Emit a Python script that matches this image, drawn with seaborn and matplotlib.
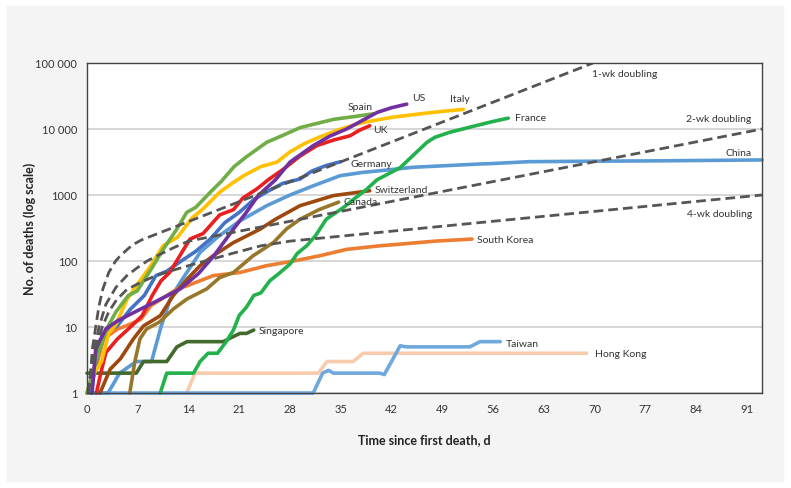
import numpy as np
import pandas as pd
import matplotlib
matplotlib.use('Agg')
import matplotlib.pyplot as plt
from matplotlib.patches import Rectangle
import seaborn as sns

# Deaths since first death (day, deaths)
spain_days = [0, 1.2, 2.7, 4, 5.7, 6.9, 9, 10.5, 12.4, 13.75, 15, 17, 18.5, 20.3, 22, 24.8, 27, 29.4, 34, 37, 39.5]
spain_deaths = [1, 3, 9.3, 17, 30, 35, 80, 150, 305, 545, 650, 1100, 1600, 2700, 3800, 6300, 8000, 10500, 14000, 15500, 17000]

us_days = [0.7, 1.2, 1.66, 2.6, 4.2, 7.4, 9.7, 12.9, 15.4, 17.5, 20.2, 22, 23.6, 26, 28, 31.2, 33.5, 35.8, 38, 40, 42, 44.1]
us_deaths = [1, 4.6, 5.9, 9.3, 12.4, 18.7, 25, 38, 65, 120, 305, 550, 980, 1700, 3150, 5600, 7800, 10000, 13500, 17800, 21000, 23800]

italy_days = [0, 1, 2, 3, 4, 5.5, 7, 8.8, 10.5, 12.5, 14.5, 16, 18.3, 20, 21.6, 24, 26.2, 28, 30, 32, 35, 38, 42, 46, 49, 51.9]
italy_deaths = [1, 2, 3, 8, 11, 26, 45, 85, 170, 230, 450, 615, 1100, 1500, 1960, 2700, 3150, 4500, 6000, 7500, 10000, 12500, 15000, 17000, 18500, 19800]

uk_days = [1.3, 1.9, 2.6, 4.2, 6, 7.6, 9, 10.2, 11.4, 14.2, 16, 18.3, 20.2, 21.5, 23.4, 25, 27.1, 29.4, 31.7, 34, 36.3, 37.5, 39]
uk_deaths = [1, 2, 4.1, 6.6, 10, 14.8, 30, 50, 67, 215, 260, 500, 600, 900, 1230, 1700, 2470, 3900, 5600, 6800, 7900, 9500, 11200]

france_days = [10.1, 11, 14.7, 15.6, 16.7, 18, 19.2, 20.2, 21, 22, 23, 24, 25.2, 26.5, 28, 29, 30.3, 31.5, 33, 35.4, 37, 38.6, 40, 43.2, 45, 46.9, 48, 50, 53.3, 56, 58.1]
france_deaths = [1, 2, 2, 3, 4, 4, 6, 9, 15, 20, 30, 33, 50, 65, 90, 130, 170, 240, 430, 650, 900, 1230, 1700, 2600, 4000, 6300, 7500, 8900, 11000, 13000, 14600]

germany_days = [0.5, 1, 1.66, 2.6, 4.2, 6, 7.9, 9.5, 11, 13, 15, 17, 19, 21, 23, 25, 27, 29.4, 31, 33, 35]
germany_deaths = [1, 2, 5.2, 8.4, 10.5, 18.7, 30, 60, 70, 100, 140, 215, 380, 545, 850, 1150, 1500, 1750, 2300, 2800, 3200]

china_days = [0, 2.9, 4.5, 6.8, 8.9, 10.2, 11.5, 13, 15.6, 18, 21, 24.8, 28, 31, 34.9, 38, 40.4, 45, 50, 54.2, 56, 61, 70, 80, 93.1]
china_deaths = [1, 1, 2, 3, 3, 10, 27, 50, 135, 230, 400, 690, 1000, 1350, 1960, 2200, 2330, 2630, 2800, 2950, 3000, 3200, 3250, 3300, 3400]

swiss_days = [1.8, 3.2, 4.6, 6.4, 7.8, 10.1, 11.9, 13.8, 15.6, 17.4, 20.2, 23.9, 26, 29.4, 34, 39]
swiss_deaths = [1, 2.3, 3.3, 6.6, 10.4, 14.8, 30, 53, 85, 120, 190, 305, 430, 690, 980, 1160]

canada_days = [5.9, 6.6, 7.3, 8.2, 10, 11.9, 13.8, 16.5, 18.3, 20.2, 22.9, 25.7, 27.5, 29.4, 32, 34.7]
canada_deaths = [1, 3, 6.6, 9.3, 11.9, 18.7, 26.6, 37.7, 56, 67, 120, 190, 305, 430, 600, 780]

korea_days = [0, 1, 2.3, 4.2, 5.5, 7.4, 8.8, 10.6, 12.5, 13.8, 17.4, 21.1, 24.8, 28.5, 32.1, 35.8, 40.4, 43.2, 48, 53.1]
korea_deaths = [1, 2, 6.6, 9.3, 10.5, 13, 21, 28, 38, 42, 60, 67, 85, 100, 120, 150, 170, 180, 200, 215]

singapore_days = [0, 6.8, 7.8, 11, 12.4, 13.8, 18.8, 20, 21.1, 22, 23]
singapore_deaths = [2, 2, 3, 3, 5, 6, 6, 7, 8, 8, 9]

taiwan_days = [0, 31.2, 32.5, 33.3, 34, 40.4, 41, 42, 43.2, 44, 52.8, 54.2, 57]
taiwan_deaths = [1, 1, 2, 2.2, 2, 2, 1.9, 3, 5.2, 5, 5, 6, 6]

hongkong_days = [13.75, 14.9, 31.9, 33.1, 36.7, 38.1, 68.9]
hongkong_deaths = [1, 2, 2, 3, 3, 4, 4]

# Doubling reference lines
wk1_days = [0.15, 0.5, 0.73, 1.2, 1.66, 2.2, 3.0, 3.95, 4.5, 5.1, 5.8, 6.5, 7.5, 69.8]
wk1_deaths = [1, 2, 4.6, 10, 21, 38, 67, 100, 117, 135, 158, 181, 208, 100000]
wk2_days = [0.15, 0.6, 1.0, 1.66, 2.6, 4, 5.5, 7, 8.3, 10, 12, 14, 93.1]
wk2_deaths = [1, 2.5, 4.6, 10, 22, 40, 60, 80, 100, 125, 160, 200, 10000]
wk4_days = [0.15, 0.7, 1.3, 2.1, 3, 4.1, 5.5, 7.5, 9.5, 11.6, 14, 17, 20, 24, 28, 93.1]
wk4_deaths = [1, 2.5, 5, 10, 17, 26, 37, 48, 60, 71, 85, 105, 130, 170, 200, 1000]

series = {
    'Hong Kong': (hongkong_days, hongkong_deaths, '#f8cbad'),
    'Taiwan': (taiwan_days, taiwan_deaths, '#6fa8dc'),
    'China': (china_days, china_deaths, '#5b9bd5'),
    'Singapore': (singapore_days, singapore_deaths, '#436a2e'),
    'South Korea': (korea_days, korea_deaths, '#ed7d31'),
    'Canada': (canada_days, canada_deaths, '#98772a'),
    'Switzerland': (swiss_days, swiss_deaths, '#9e480e'),
    'France': (france_days, france_deaths, '#22b14c'),
    'Germany': (germany_days, germany_deaths, '#4472c4'),
    'UK': (uk_days, uk_deaths, '#e8201f'),
    'Italy': (italy_days, italy_deaths, '#ffc000'),
    'Spain': (spain_days, spain_deaths, '#70ad47'),
    'US': (us_days, us_deaths, '#7030a0'),
}

# label anchors (day, deaths, ha)
labels = {
    'Spain': (36.0, 22300, 'left'), 'US': (44.8, 30500, 'left'),
    'Italy': (50.1, 28500, 'left'), 'UK': (39.4, 9660, 'left'),
    'France': (59.0, 14700, 'left'), 'Germany': (36.3, 3050, 'left'),
    'China': (91.7, 4470, 'right'), 'Switzerland': (39.7, 1230, 'left'),
    'Canada': (35.4, 810, 'left'), 'South Korea': (53.8, 215, 'left'),
    'Singapore': (23.7, 9.0, 'left'), 'Taiwan': (57.7, 5.7, 'left'),
    'Hong Kong': (70.0, 4.0, 'left'),
    '1-wk doubling': (69.7, 70500, 'left'),
    '2-wk doubling': (91.7, 14200, 'right'),
    '4-wk doubling': (91.7, 517, 'right'),
}

sns.set_style('white')
plt.rcParams['font.family'] = ['Lato', 'DejaVu Sans']

fig = plt.figure(figsize=(7.91, 4.89), dpi=100)
fig.patches.append(Rectangle((7 / 791, 7 / 489), 776 / 791, 475 / 489,
                             transform=fig.transFigure, color='#f4f4f4', zorder=-10))
ax = fig.add_axes([87 / 791, 95 / 489, 675 / 791, 330 / 489])
ax.set_facecolor('white')

long_df = pd.concat([pd.DataFrame({'day': d, 'deaths': v, 'country': k})
                     for k, (d, v, c) in series.items()], ignore_index=True)
palette = {k: c for k, (d, v, c) in series.items()}
sns.lineplot(data=long_df, x='day', y='deaths', hue='country', palette=palette,
             estimator=None, sort=False, legend=False, linewidth=2.6, ax=ax)
for line in ax.lines:
    line.set_clip_on(False)
    line.set_solid_capstyle('round')

for d, v in [(wk1_days, wk1_deaths), (wk2_days, wk2_deaths), (wk4_days, wk4_deaths)]:
    sns.lineplot(x=d, y=v, color='#555555', linewidth=2.0, linestyle=(0, (3.5, 1.8)),
                 estimator=None, sort=False, ax=ax)

ax.set_yscale('log')
ax.set_xlim(0, 93.1)
ax.set_ylim(1, 100000)
ax.set_xticks(range(0, 92, 7))
ax.set_yticks([1, 10, 100, 1000, 10000, 100000])
ax.set_yticklabels(['1', '10', '100', '1000', '10 000', '100 000'])
ax.minorticks_off()
ax.grid(axis='y', color='#d3d3d3', linewidth=1.3)
ax.set_axisbelow(True)
for s in ax.spines.values():
    s.set_color('#444444')
    s.set_linewidth(1.0)
ax.tick_params(axis='both', direction='out', length=4, width=0.8, color='#666666',
               labelsize=8, labelcolor='#333333', pad=3)

ax.set_xlabel('Time since first death, d', fontsize=9, fontweight='bold', color='#222222', labelpad=14)
ax.set_ylabel('No. of deaths (log scale)', fontsize=9, fontweight='bold', color='#222222', va='center')
ax.yaxis.set_label_coords((30 - 87) / 675, 0.5)

for name, (x, y, ha) in labels.items():
    ax.text(x, y, name, ha=ha, va='center', fontsize=7.5, color='#333333')

fig.savefig('out.png', dpi=100, facecolor='white')
